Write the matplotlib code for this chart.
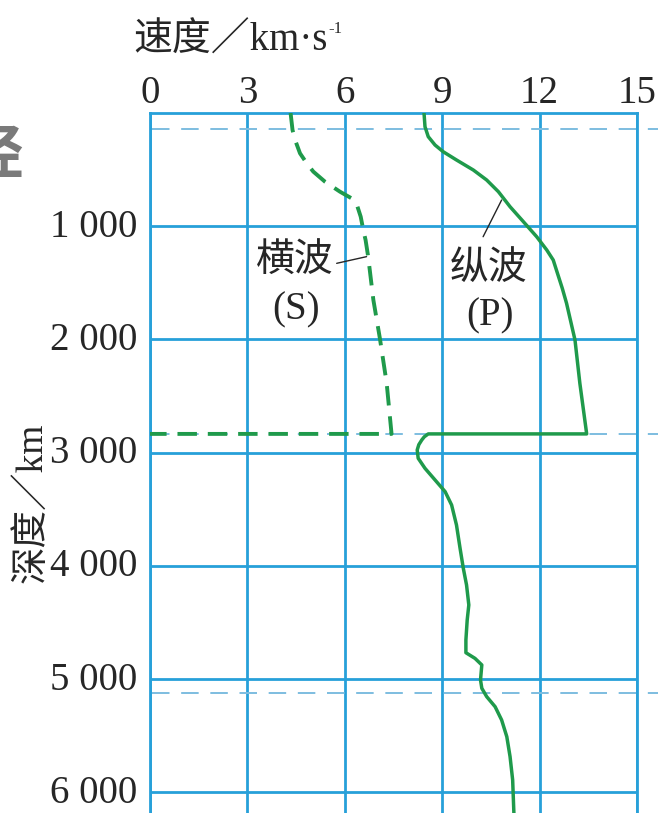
import matplotlib
matplotlib.use('Agg')
import matplotlib.pyplot as plt
from matplotlib.transforms import ScaledTranslation

plt.rcParams['font.family'] = ['Liberation Serif', 'Noto Sans CJK SC', 'DejaVu Sans']

# ---------------- data ----------------
vel_ticks = [0, 3, 6, 9, 12, 15]
vel_tick_labels = ['0', '3', '6', '9', '12', '15']
depth_ticks = [1000, 2000, 3000, 4000, 5000, 6000]
depth_tick_labels = ['1 000', '2 000', '3 000', '4 000', '5 000', '6 000']
boundary_depths = [145, 2835, 5120]

s_depth = [0, 150, 239, 356, 445, 518, 607, 695, 754, 827, 916, 1034, 1122,
           1270, 1652, 1990, 2388, 2835, 2835]
s_vel = [4.33, 4.39, 4.47, 4.62, 4.83, 5.03, 5.39, 5.85, 6.21, 6.39, 6.49, 6.57, 6.64,
         6.72, 6.88, 7.08, 7.29, 7.44, 0.0]

p_depth = [0, 121, 209, 283, 342, 415, 504, 592, 695, 828, 960, 1093, 1210, 1299,
           1416, 1550, 1681, 2005, 2388, 2835,
           2835, 2860, 2889, 2930, 2977, 3050, 3139, 3242, 3345, 3463, 3640, 3845,
           4022, 4170, 4346, 4479, 4655, 4768, 4818, 4876, 5009, 5082, 5156, 5245,
           5362, 5510, 5686, 5892, 6200]
p_vel = [8.44, 8.47, 8.57, 8.78, 9.03, 9.44, 9.96, 10.37, 10.73, 11.09, 11.50, 11.91, 12.22, 12.42,
         12.55, 12.70, 12.83, 13.09, 13.24, 13.45,
         8.57, 8.45, 8.37, 8.28, 8.23, 8.26, 8.47, 8.78, 9.09, 9.29, 9.44, 9.55,
         9.65, 9.75, 9.82, 9.77, 9.73, 9.73, 10.01, 10.22, 10.18, 10.22, 10.37, 10.63,
         10.83, 10.99, 11.09, 11.17, 11.21]

# ---------------- style ----------------
GRID = '#27a0d9'
DASHBLUE = '#7dbde0'
GREEN = '#1f9a4b'
TXT = '#262626'

W, H = 658, 813
fig = plt.figure(figsize=(W / 100, H / 100), dpi=100)
ax = fig.add_axes([150 / W, 0, 487 / W, 700 / H])
ax.set_xlim(0, 15)
ax.set_ylim(6184, 0)

ax.xaxis.tick_top()
ax.set_xticks(vel_ticks)
ax.set_xticklabels(vel_tick_labels, fontsize=28, color=TXT, family='Liberation Serif')
ax.set_yticks(depth_ticks)
ax.set_yticklabels(depth_tick_labels, fontsize=28, color=TXT, family='Liberation Serif')
ax.tick_params(axis='x', length=0, pad=0.5)
ax.tick_params(axis='y', length=0, pad=9)
shift_up = ScaledTranslation(0, 2.5 / 72, fig.dpi_scale_trans)
for lab in ax.get_yticklabels():
    lab.set_transform(lab.get_transform() + shift_up)

ax.grid(True, color=GRID, lw=2.0)
ax.set_axisbelow(True)
for s in ['top', 'left', 'right']:
    ax.spines[s].set_color(GRID)
    ax.spines[s].set_linewidth(2.0)
ax.spines['bottom'].set_visible(False)

for d in boundary_depths:
    ax.axhline(d, xmin=0.005, xmax=1.06, color=DASHBLUE, lw=1.4,
               ls=(0, (9, 6)), clip_on=False, zorder=1.5)

ax.plot(s_vel, s_depth, color=GREEN, lw=2.8, ls=(0, (5.0, 2.8)), zorder=3)
ax.plot(p_vel, p_depth, color=GREEN, lw=2.5, zorder=3, solid_joinstyle='round')

# wave labels
lab_kw = dict(ha='center', va='center', color=TXT, fontsize=28)
ax.text(4.47, 1307, '横波', family='Noto Sans CJK SC', **lab_kw)
ax.text(4.51, 1740, '(S)', family='Liberation Serif', **lab_kw)
ax.text(10.42, 1369, '纵波', family='Noto Sans CJK SC', **lab_kw)
ax.text(10.46, 1793, '(P)', family='Liberation Serif', **lab_kw)
ax.annotate('', xy=(6.67, 1269), xytext=(5.75, 1328),
            arrowprops=dict(arrowstyle='-', color=TXT, lw=1.0, shrinkA=0, shrinkB=0))
ax.annotate('', xy=(10.83, 769), xytext=(10.26, 1093),
            arrowprops=dict(arrowstyle='-', color=TXT, lw=1.0, shrinkA=0, shrinkB=0))

# axis titles
title = fig.text(133 / W, 1 - 51 / H, '速度／km·s', ha='left', va='baseline',
                 fontsize=28, color=TXT)
renderer = fig.canvas.get_renderer()
bb = title.get_window_extent(renderer=renderer)
fig.text((bb.x1 + 1) / W, 1 - 33 / H, '-1', ha='left', va='baseline',
         fontsize=12, color=TXT, family='Liberation Serif')

fig.text(31.5 / W, 1 - 503 / H, '深度／km', rotation=90, ha='center', va='center',
         fontsize=27, color=TXT)

# cropped fragment at left edge
fig.text(23 / W, 1 - 156 / H, '经', ha='right', va='center', fontsize=42,
         fontweight='bold', color='#7a7a7a', family='Noto Sans CJK SC')

fig.savefig('out.png', dpi=100)
